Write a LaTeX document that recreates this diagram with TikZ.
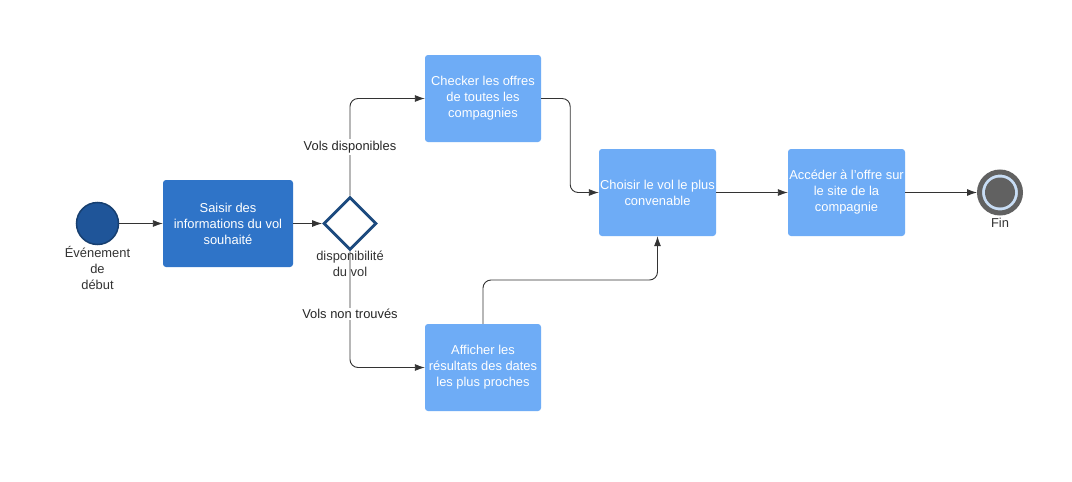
\documentclass[tikz,border=0pt]{standalone}
\usepackage{fontspec}
\setmainfont{Liberation Sans}
\usetikzlibrary{arrows.meta,shapes.geometric}
\definecolor{darkbox}{HTML}{2F74C8}
\definecolor{lightbox}{HTML}{6EACF6}
\definecolor{gwborder}{HTML}{1C4A7E}
\definecolor{startfill}{HTML}{1F5599}
\definecolor{startdraw}{HTML}{173F70}
\definecolor{fingray}{HTML}{616161}
\definecolor{finlight}{HTML}{C8DDF5}
\definecolor{linecol}{HTML}{333333}
\begin{document}
\begin{tikzpicture}[x=1pt,y=-1pt,
  every node/.style={font=\fontsize{12.9}{16}\selectfont},
  boxbase/.style={rectangle, rounded corners=3pt, minimum width=116pt, minimum height=87pt, align=center, text=white, inner sep=0pt},
  darkstep/.style={boxbase, fill=darkbox, minimum width=130pt},
  lightstep/.style={boxbase, fill=lightbox},
  flow/.style={draw=linecol, line width=0.9pt, -{Latex[length=10pt,width=7pt]}, rounded corners=8pt},
  elbl/.style={fill=white, inner sep=1.5pt, text=black!85, align=center},
  plbl/.style={inner sep=0pt, text=black!80, align=center}
]
\useasboundingbox (0,0) rectangle (1072,482);
\fill[white] (0,0) rectangle (1072,482);

% nodes
\node[circle, fill=startfill, draw=startdraw, line width=1.5pt, minimum size=42pt, inner sep=0pt] (start) at (97.5,223.5) {};
\node[darkstep] (saisir) at (228,223.5) {Saisir des\\informations du vol\\souhaité};
\node[diamond, draw=gwborder, line width=2.8pt, fill=white, minimum width=53pt, minimum height=53pt, inner sep=0pt] (gw) at (350,223.5) {};
\node[lightstep] (checker) at (483,98.5) {Checker les offres\\de toutes les\\compagnies};
\node[lightstep] (afficher) at (483,367.5) {Afficher les\\résultats des dates\\les plus proches};
\node[lightstep, minimum width=117pt] (choisir) at (657.5,192.5) {Choisir le vol le plus\\convenable};
\node[lightstep, minimum width=117pt] (acceder) at (846.5,192.5) {Accéder à l'offre sur\\le site de la\\compagnie};
\node[circle, fill=finlight, draw=fingray, line width=5pt, minimum size=41pt, inner sep=0pt] (fin) at (1000,192.5) {};
\node[circle, fill=fingray, minimum size=30pt, inner sep=0pt] (fininner) at (fin) {};

% connectors
\draw[flow] (start) -- (saisir);
\draw[flow] (saisir) -- (gw);
\draw[flow] (gw.north) |- (checker.west);
\draw[flow] (gw.south) |- (afficher.west);
\draw[flow] (checker.east) -- ++(29,0) |- (choisir.west);
\draw[flow] (afficher.north) -- (afficher.north |- 0,280) -| (choisir.south);
\draw[flow] (choisir) -- (acceder);
\draw[flow] (acceder) -- (fin);

% labels
\node[elbl] (lbldispo) at (350,147) {Vols disponibles};
\node[elbl] (lblnon) at (350,314) {Vols non trouvés};
\node[plbl, anchor=north] (lblgw) at (350,251) {disponibilité\\du vol};
\node[plbl, anchor=north] (lblstart) at (97.5,246) {Événement\\de\\début};
\node[plbl, anchor=north] (lblfin) at (1000,217.5) {Fin};
\end{tikzpicture}
\end{document}
